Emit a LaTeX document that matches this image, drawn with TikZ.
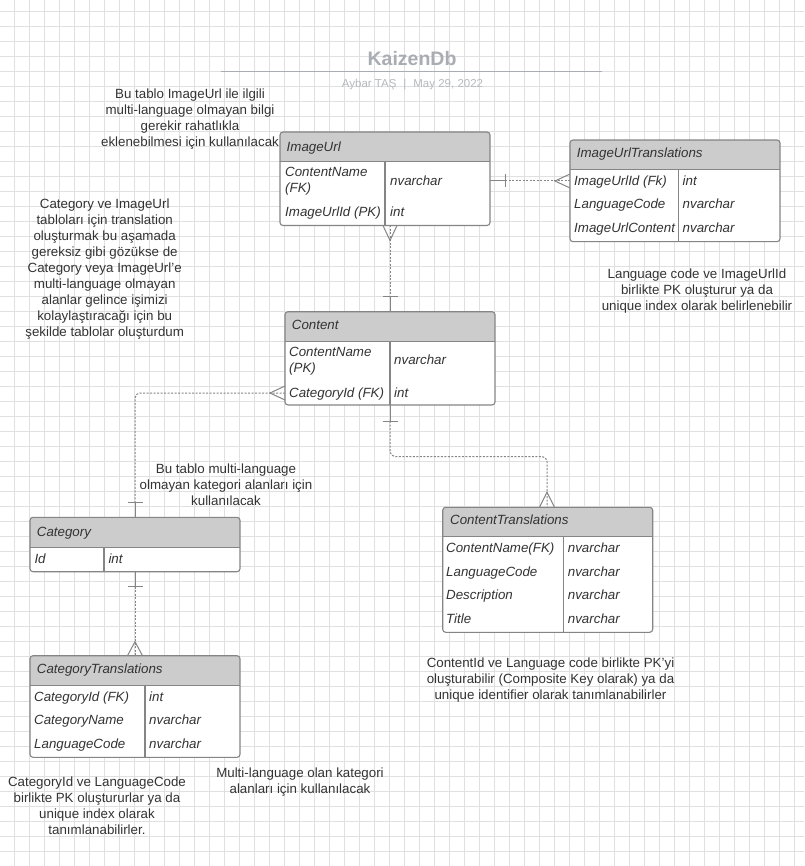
\documentclass[tikz,border=0pt]{standalone}
\usepackage{fontspec}
\setmainfont{Liberation Sans}
\usetikzlibrary{calc}
\definecolor{gridc}{HTML}{E0E0E0}
\definecolor{hdrc}{HTML}{CCCCCC}
\definecolor{bordc}{HTML}{858585}
\definecolor{connc}{HTML}{858585}
\definecolor{txt}{HTML}{333333}
\definecolor{titlec}{HTML}{A9ADB3}
\definecolor{subc}{HTML}{B5B9BE}
\tikzset{
  gridl/.style={draw=gridc, line width=0.8pt},
  tabborder/.style={draw=bordc, line width=1.1pt, rounded corners=3pt},
  tabline/.style={draw=bordc, line width=1.1pt},
  cell/.style={font=\fontsize{13.33}{16}\selectfont\itshape, text=txt, inner sep=0pt, anchor=west, text height=9pt, text depth=0pt},
  mcell/.style={font=\fontsize{13.33}{16}\selectfont\itshape, text=txt, inner sep=0pt, anchor=base west, align=left},
  note/.style={font=\fontsize{13.33}{16}\selectfont, text=txt, inner sep=0pt, align=center, anchor=base},
  conn/.style={draw=connc, line width=1pt},
  dotc/.style={draw=connc, line width=1pt, dash pattern=on 2pt off 1.5pt},
}
\newcommand{\ertable}[7]{%
  \begin{scope}
    \clip[rounded corners=3pt] (#2,#3) rectangle (#4,#5);
    \fill[white] (#2,#3) rectangle (#4,#5);
    \fill[hdrc] (#2,#3) rectangle (#4,#6);
  \end{scope}
  \draw[tabline] (#2,#6) -- (#4,#6);
  \draw[tabline] (#7,#6) -- (#7,#5);
  \node[tabborder, inner sep=0pt, outer sep=0pt, minimum width={#4-#2}, minimum height={#5-#3}, anchor=north west] (#1) at (#2,#3) {};
}
\begin{document}
\begin{tikzpicture}[x=1pt,y=-1pt]
\useasboundingbox (0,0) rectangle (804,866);
\fill[white] (0,0) rectangle (804,866);
\foreach \i in {0,...,52} \draw[gridl] ({14.3+15*\i},0) -- ({14.3+15*\i},866);
\foreach \j in {0,...,57} \draw[gridl] (0,{11+15*\j}) -- (804,{11+15*\j});

% title
\node[font=\fontsize{19.5}{22}\selectfont\bfseries, text=titlec, anchor=base, inner sep=0pt] (title) at (412,65.5) {KaizenDb};
\coordinate (tl1) at (220.7,71.7);
\coordinate (tl2) at (601.7,71.7);
\draw[draw=titlec, line width=1.3pt] (tl1) -- (tl2);
\node[font=\fontsize{11.5}{14}\selectfont, text=subc, anchor=base, inner sep=0pt] (sub) at (412.5,87.3) {Aybar TAŞ\hspace{7pt}|\hspace{7pt}May 29, 2022};

% notes (anchor = baseline of last line)
\node[note] (n1) at (190,146.5) {Bu tablo ImageUrl ile ilgili\\multi-language olmayan bilgi\\gerekir rahatlıkla\\eklenebilmesi için kullanılacak};
\node[note] (n2) at (104.7,336.5) {Category ve ImageUrl\\tabloları için translation\\oluşturmak bu aşamada\\gereksiz gibi gözükse de\\Category veya ImageUrl'e\\multi-language olmayan\\alanlar gelince işimizi\\kolaylaştıracağı için bu\\şekilde tablolar oluşturdum};
\node[note] (n3) at (697,310.5) {Language code ve ImageUrlId\\birlikte PK oluşturur ya da\\unique index olarak belirlenebilir};
\node[note] (n4) at (226,505) {Bu tablo multi-language\\olmayan kategori alanları için\\kullanılacak};
\node[note] (n5) at (550.5,699) {ContentId ve Language code birlikte PK'yi\\oluşturabilir (Composite Key olarak) ya da\\unique identifier olarak tanımlanabilirler};
\node[note] (n6) at (97,834.5) {CategoryId ve LanguageCode\\birlikte PK oluştururlar ya da\\unique index olarak\\tanımlanabilirler.};
\node[note] (n7) at (300,793) {Multi-language olan kategori\\alanları için kullanılacak};

% tables
\ertable{imgurl}{280}{132}{490}{225.5}{161.7}{385}
\node[cell] (imgurl-h) at (286.5,146.7) {ImageUrl};
\node[mcell] (imgurl-r1) at (285,192.8) {ContentName\\(FK)};
\node[cell] (imgurl-v1) at (390,181) {nvarchar};
\node[cell] (imgurl-r2) at (285,212.3) {ImageUrlId (PK)};
\node[cell] (imgurl-v2) at (390,212.3) {int};

\ertable{imgtr}{570}{140}{780}{241.7}{169.3}{678.3}
\node[cell] (imgtr-h) at (576.7,153.3) {ImageUrlTranslations};
\node[cell] (imgtr-r1) at (574,181) {ImageUrlId (Fk)};
\node[cell] (imgtr-v1) at (682.5,181) {int};
\node[cell] (imgtr-r2) at (574,204.3) {LanguageCode};
\node[cell] (imgtr-v2) at (682.5,204.3) {nvarchar};
\node[cell] (imgtr-r3) at (574,228.3) {ImageUrlContent};
\node[cell] (imgtr-v3) at (682.5,228.3) {nvarchar};

\ertable{content}{285}{311.7}{495}{405}{341.7}{390}
\node[cell] (content-h) at (291.7,325) {Content};
\node[mcell] (content-r1) at (289,372.8) {ContentName\\(PK)};
\node[cell] (content-v1) at (394,360) {nvarchar};
\node[cell] (content-r2) at (289,392.7) {CategoryId (FK)};
\node[cell] (content-v2) at (394,392.7) {int};

\ertable{category}{30}{517.3}{240}{571.7}{547.3}{104}
\node[cell] (category-h) at (36.7,531.7) {Category};
\node[cell] (category-r1) at (34.3,559) {Id};
\node[cell] (category-v1) at (108.3,559) {int};

\ertable{cattr}{30}{655.7}{240}{757.3}{685.7}{145}
\node[cell] (cattr-h) at (36.7,669.3) {CategoryTranslations};
\node[cell] (cattr-r1) at (34,696.7) {CategoryId (FK)};
\node[cell] (cattr-v1) at (149,696.7) {int};
\node[cell] (cattr-r2) at (34,720.3) {CategoryName};
\node[cell] (cattr-v2) at (149,720.3) {nvarchar};
\node[cell] (cattr-r3) at (34,744) {LanguageCode};
\node[cell] (cattr-v3) at (149,744) {nvarchar};

\ertable{contr}{442.7}{507.3}{652.7}{632.3}{536.7}{563.3}
\node[cell] (contr-h) at (450,520) {ContentTranslations};
\node[cell] (contr-r1) at (446,547.7) {ContentName(FK)};
\node[cell] (contr-v1) at (567.7,547.7) {nvarchar};
\node[cell] (contr-r2) at (446,571.7) {LanguageCode};
\node[cell] (contr-v2) at (567.7,571.7) {nvarchar};
\node[cell] (contr-r3) at (446,595) {Description};
\node[cell] (contr-v3) at (567.7,595) {nvarchar};
\node[cell] (contr-r4) at (446,619) {Title};
\node[cell] (contr-v4) at (567.7,619) {nvarchar};

% connector 1: ImageUrl -- ImageUrlTranslations
\coordinate (c1a) at ($(imgurl.north east)+(0,49)$);
\coordinate (c1b) at ($(imgtr.north west)+(0,41)$);
\coordinate (c1t) at ($(c1a)+(15,0)$);
\coordinate (c1f) at ($(c1b)+(-15,0)$);
\draw[conn] (c1a) -- (c1t);
\draw[conn] ($(c1t)+(0,-6.5)$) -- ($(c1t)+(0,6.5)$);
\draw[dotc] (c1t) -- (c1b);
\draw[conn] ($(c1b)+(0,-7)$) -- (c1f) -- ($(c1b)+(0,7)$);

% connector 2: ImageUrl -- Content
\coordinate (c2a) at ($(imgurl.south west)+(110,0)$);
\coordinate (c2b) at ($(content.north west)+(105,0)$);
\coordinate (c2f) at ($(c2a)+(0,15)$);
\coordinate (c2t) at ($(c2b)+(0,-15)$);
\draw[conn] ($(c2a)+(-7,0)$) -- (c2f) -- ($(c2a)+(7,0)$);
\draw[dotc] (c2a) -- (c2t);
\draw[conn] (c2t) -- (c2b);
\draw[conn] ($(c2t)+(-7.5,0)$) -- ($(c2t)+(7.5,0)$);

% connector 3: Content -- Category
\coordinate (c3a) at ($(content.north west)+(0,81.3)$);
\coordinate (c3b) at ($(category.north west)+(105,0)$);
\coordinate (c3f) at ($(c3a)+(-15,0)$);
\coordinate (c3t) at ($(c3b)+(0,-15)$);
\draw[conn] ($(c3a)+(0,-7)$) -- (c3f) -- ($(c3a)+(0,7)$);
\draw[dotc, rounded corners=5pt] (c3a) -| (c3t);
\draw[conn] (c3t) -- (c3b);
\draw[conn] ($(c3t)+(-7.5,0)$) -- ($(c3t)+(7.5,0)$);

% connector 4: Content -- ContentTranslations
\coordinate (c4a) at ($(content.south west)+(105,0)$);
\coordinate (c4b) at ($(contr.north west)+(104.3,0)$);
\coordinate (c4t) at ($(c4a)+(0,16)$);
\coordinate (c4f) at ($(c4b)+(0,-15)$);
\coordinate (c4m) at ($(c4b)+(0,-50.8)$);
\draw[conn] (c4a) -- (c4t);
\draw[conn] ($(c4t)+(-7.5,0)$) -- ($(c4t)+(7.5,0)$);
\draw[dotc, rounded corners=5pt] (c4t) |- (c4m) -- (c4b);
\draw[conn] ($(c4b)+(-7.5,0)$) -- (c4f) -- ($(c4b)+(7.5,0)$);

% connector 5: Category -- CategoryTranslations
\coordinate (c5a) at ($(category.south west)+(105,0)$);
\coordinate (c5b) at ($(cattr.north west)+(105,0)$);
\coordinate (c5t) at ($(c5a)+(0,15)$);
\coordinate (c5f) at ($(c5b)+(0,-14)$);
\draw[conn] (c5a) -- (c5t);
\draw[conn] ($(c5t)+(-7.5,0)$) -- ($(c5t)+(7.5,0)$);
\draw[dotc] (c5t) -- (c5b);
\draw[conn] ($(c5b)+(-7.5,0)$) -- (c5f) -- ($(c5b)+(7.5,0)$);
\end{tikzpicture}
\end{document}
